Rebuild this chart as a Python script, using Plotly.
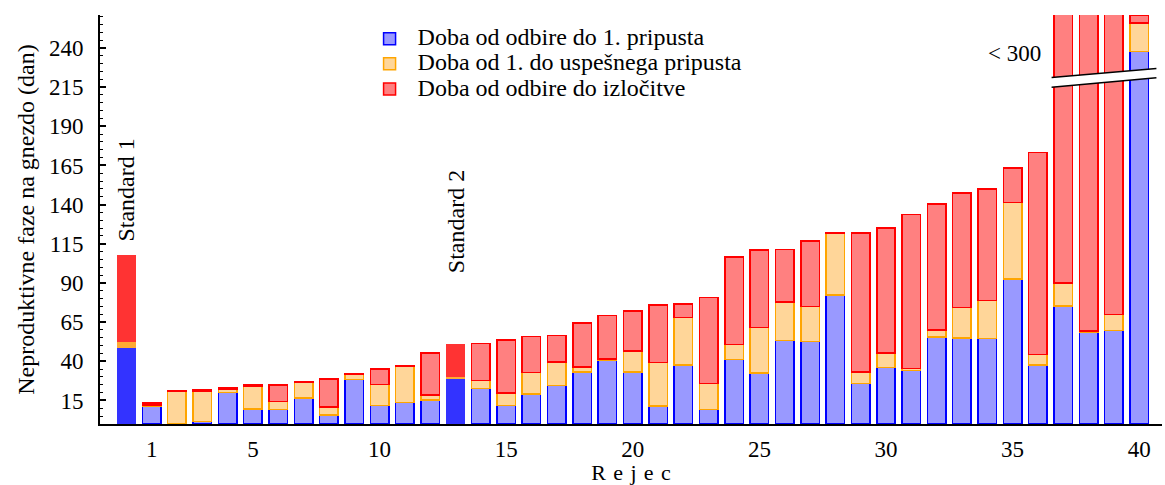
import plotly.graph_objects as go

# x positions: 0 = Standard 1, 13 = Standard 2, others = rows
positions = list(range(0, 41))
x_tick_vals = [1, 5, 10, 15, 20, 25, 30, 35, 40]
x_tick_text = ["1", "5", "10", "15", "20", "25", "30", "35", "40"]

blue = [49.0, 11.4, 0.0, 1.6, 20.0, 9.7, 9.3, 16.5, 5.6, 28.4,
        11.8, 13.6, 15.4, 28.8, 22.7, 11.8, 19.3, 24.6, 33.1, 41.0,
        33.3, 11.4, 37.5, 9.3, 41.3, 32.4, 53.3, 52.6, 82.4, 26.0,
        36.2, 34.1, 55.6, 55.0, 54.6, 92.4, 37.8, 75.2, 58.6, 59.7,
        237.7]
orange = [3.6, 0.8, 20.9, 19.6, 2.3, 14.4, 5.1, 10.0, 5.1, 3.2,
          13.4, 23.3, 3.0, 1.7, 5.1, 8.1, 13.6, 15.1, 3.4, 0.5,
          13.2, 28.0, 30.5, 16.5, 9.5, 29.2, 24.4, 22.4, 39.4, 7.1,
          9.2, 1.3, 4.5, 19.5, 24.2, 49.1, 6.4, 14.7, 0.7, 10.2,
          18.1]
red = [55.0, 1.3, 0.5, 0.6, 0.9, 0.7, 10.6, 0.4, 18.1, 0.4,
       10.0, 0.4, 26.8, 20.0, 23.6, 33.8, 23.1, 16.8, 28.1, 27.8,
       25.7, 36.7, 8.7, 54.9, 55.7, 49.3, 33.5, 41.7, 0.3, 88.9,
       79.8, 98.3, 80.2, 72.8, 71.3, 21.8, 128.9, 205.0, 236.0, 225.0,
       5.0]

standard_positions = [0, 13]
standard_labels = ["Standard 1", "Standard 2"]
standard_label_y = [115, 95]

series_names = ["Doba od odbire do 1. pripusta",
                "Doba od 1. do uspešnega pripusta",
                "Doba od odbire do izločitve"]

fill_colors = ["#9999FF", "#FFD699", "#FF8080"]
line_colors = ["#0000FF", "#FFA500", "#FF0000"]
std_colors = ["#3333FF", "#FFAA33", "#FF3333"]

FONT = "Liberation Serif"

fig = go.Figure()
for vals, name, fc, lc in zip([blue, orange, red], series_names,
                              fill_colors, line_colors):
    yv = [None if p in standard_positions else v for p, v in zip(positions, vals)]
    fig.add_trace(go.Bar(
        x=positions, y=yv,
        name="<span style='font-size:24px'>" + name + "</span>",
        marker=dict(color=fc, line=dict(color=lc, width=1.5)),
    ))
for vals, sc in zip([blue, orange, red], std_colors):
    yv = [v if p in standard_positions else None for p, v in zip(positions, vals)]
    fig.add_trace(go.Bar(
        x=positions, y=yv, showlegend=False,
        marker=dict(color=sc, line=dict(color=sc, width=1.0)),
    ))

annotations = []
for p, lab, ly in zip(standard_positions, standard_labels, standard_label_y):
    annotations.append(dict(x=p, y=ly, xref="x", yref="y", text=lab,
                            textangle=-90, showarrow=False,
                            xanchor="center", yanchor="bottom",
                            font=dict(family=FONT, size=24, color="black")))
annotations.append(dict(x=35.08, y=236.4, xref="x", yref="y", text="&lt; 300",
                        showarrow=False, xanchor="center", yanchor="middle",
                        font=dict(family=FONT, size=23, color="black")))

bx0, bx1 = 36.54, 40.68
shapes = [
    dict(type="path", xref="x", yref="y",
         path=f"M {bx0},221.1 L {bx1},226.9 L {bx1},220.9 L {bx0},214.9 Z",
         fillcolor="white", line=dict(width=0), layer="above"),
    dict(type="line", xref="x", yref="y", x0=bx0, y0=221.1, x1=bx1, y1=226.9,
         line=dict(color="black", width=1.5), layer="above"),
    dict(type="line", xref="x", yref="y", x0=bx0, y0=214.9, x1=bx1, y1=220.9,
         line=dict(color="black", width=1.5), layer="above"),
]

fig.update_layout(
    barmode="stack",
    bargap=0.27,
    width=1165, height=485,
    margin=dict(l=100, r=3, t=15, b=61, autoexpand=False),
    paper_bgcolor="white", plot_bgcolor="white",
    font=dict(family=FONT, size=23, color="black"),
    showlegend=True,
    legend=dict(x=0.2463, y=0.985, xanchor="left", yanchor="top",
                traceorder="normal", itemwidth=46,
                font=dict(family=FONT, size=17, color="black"),
                bgcolor="rgba(0,0,0,0)", borderwidth=0),
    annotations=annotations,
    shapes=shapes,
)

fig.update_xaxes(
    range=[-1.04, 40.9],
    tickmode="array", tickvals=x_tick_vals, ticktext=x_tick_text,
    ticks="", showline=True, linecolor="black", linewidth=2,
    showgrid=False, zeroline=False, automargin=False,
    tickfont=dict(family=FONT, size=23, color="black"),
    ticklabelstandoff=3,
    title=dict(text="R\u2004e\u2004j\u2004e\u2004c",
               font=dict(family=FONT, size=22, color="black"), standoff=3),
)
fig.update_yaxes(
    range=[0, 261],
    tickmode="linear", tick0=15, dtick=25,
    ticks="inside", ticklen=6, tickwidth=1.5, tickcolor="black",
    minor=dict(ticks="inside", ticklen=3, tickwidth=1.2, tickcolor="black",
               tickmode="linear", tick0=0, dtick=5),
    showline=True, linecolor="black", linewidth=2,
    showgrid=False, zeroline=False, automargin=False,
    tickfont=dict(family=FONT, size=23, color="black"),
    ticklabelstandoff=10,
    title=dict(text="Neproduktivne faze na gnezdo (dan)",
               font=dict(family=FONT, size=24, color="black"), standoff=8),
)

fig.write_html("out.html", config={"displayModeBar": False},
               post_script="document.body.style.margin='0px';document.body.style.padding='0px';")
